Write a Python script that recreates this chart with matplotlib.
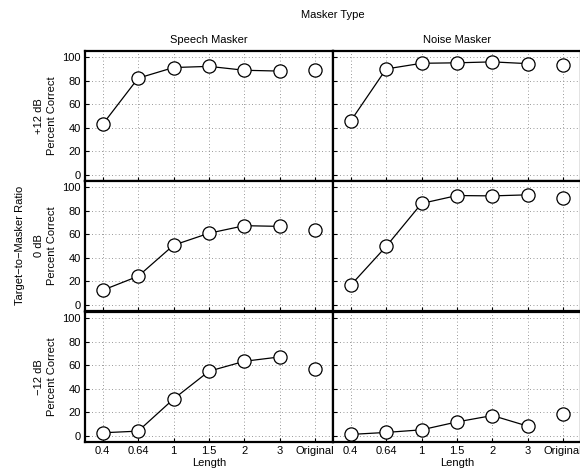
import numpy as np
import matplotlib.pyplot as plt

plt.rcParams['font.family'] = ['Liberation Sans', 'DejaVu Sans']
plt.rcParams['font.size'] = 8

# categories on the x axis
lengths = ['0.4', '0.64', '1', '1.5', '2', '3', 'Original']
maskers = ['Speech Masker', 'Noise Masker']
ratios = ['+12 dB', '0 dB', '\u221212 dB']

# percent correct, one list per panel (last value = Original)
speech_p12 = [43, 82, 91, 92, 88.7, 88, 89]
noise_p12 = [45.8, 89.8, 94.6, 95, 95.8, 94.3, 93]
speech_0 = [12.6, 24.4, 50.7, 60.8, 67.2, 66.6, 63.9]
noise_0 = [16.8, 49.6, 86, 92.7, 92.4, 93.3, 91]
speech_m12 = [2.8, 4.2, 31.4, 54.9, 63.3, 67, 56.9]
noise_m12 = [1.4, 3.1, 5.3, 12, 17.4, 8.4, 19]

data = [[speech_p12, noise_p12], [speech_0, noise_0], [speech_m12, noise_m12]]

fig = plt.figure(figsize=(5.8, 4.7), dpi=100)

left0 = 85 / 580
w = 248 / 580
tops = [51, 181, 312]
h = 130 / 470

x = np.arange(len(lengths))
for r in range(3):
    for c in range(2):
        ax = fig.add_axes([left0 + c * w, 1 - (tops[r] + 130) / 470, w, h])
        vals = data[r][c]
        ax.plot(x[:6], vals[:6], color='black', lw=0.9, zorder=3)
        ax.plot(x, vals, 'o', ms=9.5, mfc='white', mec='black', mew=0.9, zorder=4)
        ax.set_xlim(-0.5, 6.5)
        ax.set_ylim(-5, 105)
        ax.set_xticks(x)
        ax.set_yticks([0, 20, 40, 60, 80, 100])
        ax.grid(True, linestyle=(0, (1, 3)), color='#777777', lw=0.6)
        ax.tick_params(direction='in', length=3, width=0.8, labelsize=8, pad=3)
        for s in ax.spines.values():
            s.set_linewidth(1.6)
        if r == 2:
            ax.set_xticklabels(lengths)
            ax.set_xlabel('Length', labelpad=1)
        else:
            ax.set_xticklabels([])
        if c == 0:
            ax.set_ylabel(ratios[r] + '\nPercent Correct', labelpad=4, linespacing=1.3)
        else:
            ax.set_yticklabels([])
        if r == 0:
            ax.set_title(maskers[c], fontsize=8, pad=6)

fig.text(333 / 580, 1 - 15 / 470, 'Masker Type', ha='center', va='center', fontsize=8)
fig.text(20 / 580, 1 - 245 / 470, 'Target\u2212to\u2212Masker Ratio', ha='center', va='center',
         rotation=90, fontsize=8)

fig.savefig('out.png', dpi=100)
